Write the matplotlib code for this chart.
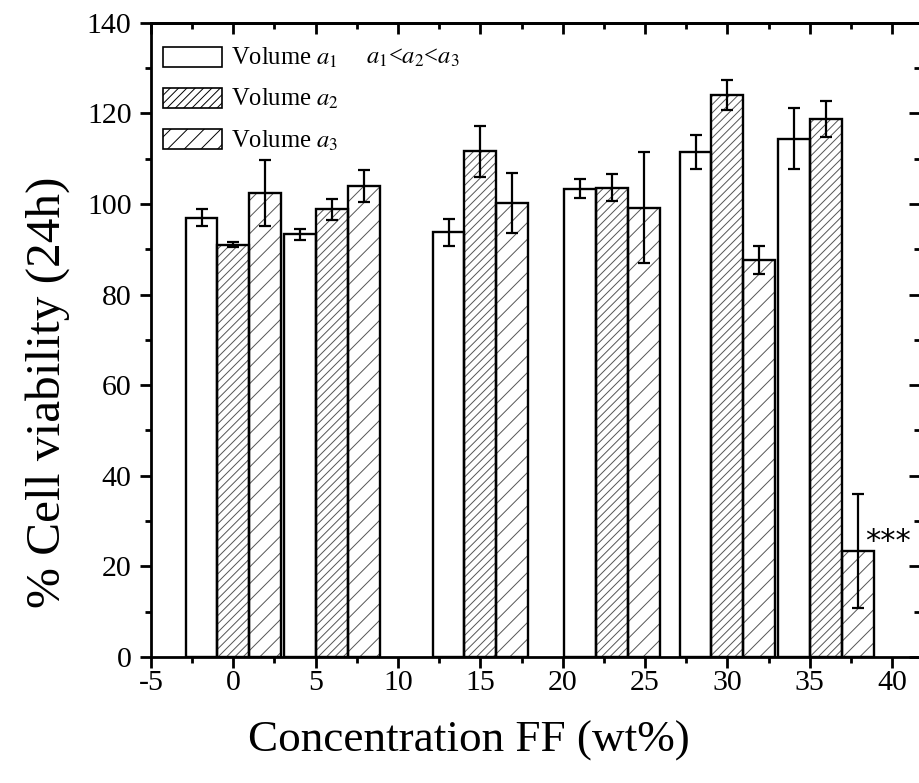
import matplotlib
matplotlib.use("Agg")
import matplotlib.pyplot as plt
import matplotlib.patches as mpatches
from matplotlib.ticker import MultipleLocator
import numpy as np

plt.rcParams["font.family"] = ["Liberation Serif", "DejaVu Serif"]
plt.rcParams["mathtext.fontset"] = "stix"
plt.rcParams["hatch.linewidth"] = 0.7
plt.rcParams["axes.unicode_minus"] = False

# concentration positions (centre of the a2 bar of each group)
conc = [0, 6, 15, 23, 30, 36]

vol_a1 = [97.0, 93.3, 93.7, 103.4, 111.5, 114.4]
err_a1 = [1.8, 1.2, 3.0, 2.1, 3.75, 6.7]
vol_a2 = [91.0, 98.8, 111.6, 103.6, 124.1, 118.8]
err_a2 = [0.5, 2.35, 5.7, 3.0, 3.3, 4.0]
vol_a3 = [102.4, 104.0, 100.2, 99.2, 87.6, 23.4]
err_a3 = [7.3, 3.5, 6.6, 12.2, 3.1, 12.5]

labels = [r"Volume $\mathit{a}_{\mathit{1}}$",
          r"Volume $\mathit{a}_{\mathit{2}}$",
          r"Volume $\mathit{a}_{\mathit{3}}$"]

fig = plt.figure(figsize=(9.19, 7.83), dpi=100)
ax = fig.add_axes([0.1643, 0.1609, 0.8368, 0.8101])

x = np.array(conc, dtype=float)
w = 1.93

series = [
    (x - w, vol_a1, err_a1, ""),
    (x, vol_a2, err_a2, "////"),
    (x + w, vol_a3, err_a3, "//"),
]

for xs, vals, errs, hatch in series:
    # hatch layer in grey, then black outline on top
    ax.bar(xs, vals, width=w, facecolor="white", edgecolor="#555555",
           linewidth=0, hatch=hatch, zorder=2)
    ax.bar(xs, vals, width=w, fill=False, edgecolor="black",
           linewidth=1.7, zorder=3)
    ax.errorbar(xs, vals, yerr=errs, fmt="none", ecolor="black",
                elinewidth=1.6, capsize=4.5, capthick=1.6, zorder=4)

# significance mark next to the last a3 bar
ax.text(x[-1] + w + 0.42, 25.6, "***", fontsize=22, ha="left", va="center",
        family="DejaVu Sans")

ax.set_xlim(-5, 41.7)
ax.set_ylim(0, 140)
ax.xaxis.set_major_locator(MultipleLocator(5))
ax.xaxis.set_minor_locator(MultipleLocator(2.5))
ax.yaxis.set_major_locator(MultipleLocator(20))
ax.yaxis.set_minor_locator(MultipleLocator(10))

for s in ax.spines.values():
    s.set_linewidth(2)

ax.tick_params(which="major", direction="out", length=8, width=2,
               labelsize=21.5)
ax.tick_params(which="minor", direction="out", length=4.5, width=2)
ax.tick_params(axis="y", pad=6)
ax.tick_params(axis="x", pad=1)

top = ax.secondary_xaxis("top")
top.xaxis.set_major_locator(MultipleLocator(5))
top.xaxis.set_minor_locator(MultipleLocator(2.5))
top.tick_params(which="major", direction="in", length=8, width=2, labeltop=False)
top.tick_params(which="minor", direction="in", length=4.5, width=2)
top.spines["top"].set_linewidth(2)

right = ax.secondary_yaxis("right")
right.yaxis.set_major_locator(MultipleLocator(20))
right.yaxis.set_minor_locator(MultipleLocator(10))
right.tick_params(which="major", direction="in", length=8, width=2, labelright=False)
right.tick_params(which="minor", direction="in", length=4.5, width=2)

ax.set_xlabel("Concentration FF (wt%)", fontsize=32.5)
ax.set_ylabel("% Cell viability (24h)", fontsize=35.5)
ax.xaxis.set_label_coords(0.4135, -0.1)
ax.yaxis.set_label_coords(-0.105, 0.418)

handles = [
    mpatches.Patch(facecolor="white", edgecolor="black", linewidth=1.2),
    mpatches.Patch(facecolor="white", edgecolor="black", linewidth=1.2, hatch="////"),
    mpatches.Patch(facecolor="white", edgecolor="black", linewidth=1.2, hatch="//"),
]
ax.legend(handles, labels, loc="upper left", bbox_to_anchor=(0.0156, 0.963),
          frameon=False, fontsize=17.7, handlelength=2.4, handleheight=0.88,
          labelspacing=0.68, handletextpad=0.37, borderpad=0, borderaxespad=0)

ax.text(0.2796, 0.9445,
        r"$\mathit{a}_{\mathit{1}}$<$\mathit{a}_{\mathit{2}}$<$\mathit{a}_{\mathit{3}}$",
        transform=ax.transAxes, fontsize=17.7, ha="left", va="center")

fig.savefig("out.png", dpi=100)
